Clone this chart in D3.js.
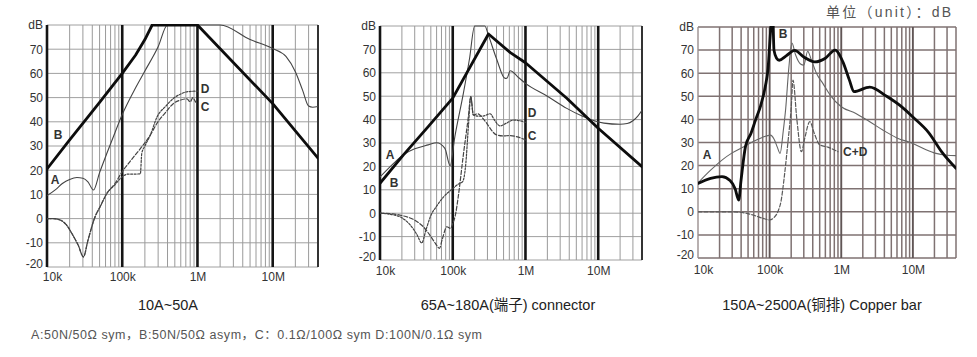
<!DOCTYPE html>
<html><head><meta charset="utf-8">
<script src="https://cdn.jsdelivr.net/npm/d3@7"></script>
<style>
body{margin:0;background:#fff;}
svg{display:block;font-family:"Liberation Sans",Arial,"Noto Sans CJK SC",sans-serif;}
</style></head>
<body><svg id="c" width="977" height="357"></svg>
<script>
// ---------- data ----------
const xTickValues = [1e4, 1e5, 1e6, 1e7];
const xTickLabels = ["10k", "100k", "1M", "10M"];
const yTickValues = [-20, -10, 0, 10, 20, 30, 40, 50, 60, 70, 80];
const yTickLabels = ["-20", "-10", "0", "10", "20", "30", "40", "50", "60", "70", "dB"];
const panelTitles = ["10A~50A", "65A~180A(端子) connector", "150A~2500A(铜排) Copper bar"];
const unitNote = "单位（unit）：dB";
const footNote = "A:50N/50Ω sym，B:50N/50Ω asym，C：0.1Ω/100Ω sym  D:100N/0.1Ω sym";

// Panel 1 (10A~50A)
const p1A_f = [1e4,1.3e4,1.6e4,2e4,2.5e4,3e4,3.5e4,4.15e4,5e4,6.25e4,8e4,1e5,1.5e5,2e5,3e5,4e5,2e6,5e6,1e7,1.5e7,2e7,2.5e7,3e7,3.4e7,4e7];
const p1A_db = [9.5,12,14.5,16.2,17,16.7,15.2,11.8,19,27,35.5,43,54,61,71,80,80,74,70.3,67,60.7,53,46.5,46,46.3];
const p1B_f = [1e4,2e4,5e4,1e5,1.5e5,2e5,2.5e5,1e6,1e7,4e7];
const p1B_db = [20.5,32.5,48,60,67.5,74,80,80,47.5,25];
const p1C_f = [1e4,1.2e4,1.5e4,1.8e4,2.2e4,2.6e4,3.05e4,3.5e4,4.36e4,5.1e4,6.25e4,8e4,1e5,1.3e5,1.8e5,2.36e5,2.9e5,3.8e5,4.8e5,6e5,7.25e5,8e5,8.7e5,9.3e5,1e6];
const p1C_db = [0,0,-0.6,-2.5,-6.8,-11,-15.8,-9,0.8,5,10.4,14.5,19.4,24,29.5,34.5,39.4,44,47.6,49,49.5,48.2,50,48.5,47.5];
const p1D_f = [1e4,1.2e4,1.5e4,1.8e4,2.2e4,2.6e4,3.05e4,3.5e4,4.36e4,5.1e4,6.25e4,8e4,1e5,1.2e5,1.5e5,1.74e5,1.82e5,2e5,2.36e5,2.9e5,3.8e5,4.8e5,6e5,7.25e5,1e6];
const p1D_db = [0,0,-0.6,-2.5,-6.8,-11,-15.8,-9,0.8,5,10.4,14,17.3,18.4,18.4,18.5,27,30,34.5,42,46.5,49.7,51.5,52.4,52.7];

// Panel 2 (connector)
const p2A_f = [1e4,1.5e4,2.1e4,3e4,4.6e4,6e4,7.8e4,9.2e4,1.07e5,1.4e5,1.7e5,2e5,2.76e5,3.1e5,4e5,5.25e5,5.6e5,6.17e5,8e5,1e6,2e6,3.7e6,6e6,8.2e6,1.2e7,2e7,2.5e7,3e7,3.5e7,4e7];
const p2A_db = [15.5,21,25,27.5,29.2,30.1,27.7,20.3,32.7,51.2,66,80,80,76,66,57.6,57.8,60.9,58,55.5,50,44.8,41.5,39.8,38.5,38,38.3,39.5,41.5,44];
const p2B_f = [1e4,2.1e4,4.6e4,1e5,3.1e5,6.2e5,1e6,3.7e6,1e7,4e7];
const p2B_db = [12.8,24.9,37,49.2,76.6,68.6,64.3,49.1,36.3,19.9];
const p2C_f = [1e4,1.5e4,2e4,3e4,4e4,5e4,5.8e4,6.56e4,7.2e4,8.3e4,9.3e4,1e5,1.1e5,1.19e5,1.4e5,1.64e5,1.77e5,1.92e5,2.2e5,2.6e5,3e5,3.5e5,4e5,5e5,6e5,8e5,1e6];
const p2C_db = [0,-0.3,-1,-3,-6,-10,-13,-15,-11,-5.8,-6.5,-4.5,0,7,25,41.2,49.8,42,42.5,40.5,38,35,33.5,33,33.2,32.5,31.3];
const p2D_f = [1e4,1.4e4,2e4,2.6e4,3.2e4,3.75e4,4.3e4,5e4,6e4,7.5e4,1e5,1.2e5,1.37e5,1.5e5,1.65e5,1.77e5,1.92e5,2.2e5,2.6e5,3.26e5,3.8e5,4.46e5,5.5e5,6.83e5,8.5e5,1e6];
const p2D_db = [0,-0.5,-2,-5,-9,-12.7,-7,-1,3,7,10.5,12.5,13.5,20,38,49.8,42,41.5,41.5,42.5,39.5,37.3,38.5,39.8,39.5,38.8];

// Panel 3 (copper bar)
const p3A_f = [1e4,1.5e4,2.16e4,3e4,4.36e4,6e4,7.9e4,1.03e5,1.15e5,1.28e5,1.4e5,1.55e5,1.68e5,1.85e5,2.05e5,2.3e5,2.7e5,3e5,3.4e5,3.8e5,4.5e5,5.56e5,7e5,1e6,1.6e6,2.5e6,3.8e6,6e6,1e7,1.5e7,2.1e7,3e7,4e7];
const p3A_db = [12.5,18,22.4,25.5,28.2,30.5,32.2,33.2,31.5,28,25.3,35,45,62,73,68,64,63.5,69.5,66,60,55.5,50.5,45.5,42.6,39,35.4,32,29.6,27,25.3,24.5,24.3];
const p3B_f = [1e4,1.5e4,2.16e4,2.8e4,3.3e4,3.7e4,4e4,4.6e4,5.5e4,6.35e4,7.5e4,8.7e4,9.5e4,1.03e5,1.1e5,1.15e5,1.25e5,1.36e5,1.7e5,2.23e5,3e5,4.27e5,6e5,8.2e5,1.05e6,1.3e6,1.5e6,2.5e6,4.3e6,7e6,1e7,1.66e7,2.56e7,4e7];
const p3B_db = [12.3,14.5,15.2,13.5,10,5.1,14,28.2,34,39.7,46,54.2,62,78,88,70,66.5,65.6,67.5,69.9,67,64.9,66.5,70,65,57,52,54,50,45.4,41,34.3,25.7,18.8];
const p3CD_f = [1e4,2e4,3e4,4.5e4,6e4,8e4,1e5,1.15e5,1.3e5,1.45e5,1.6e5,1.8e5,2e5,2.12e5,2.4e5,2.78e5,3.1e5,3.64e5,4.2e5,5e5,6.5e5,9e5];
const p3CD_db = [0,0,0,-0.5,-1.5,-2.8,-3.5,-2.5,0,5,15,30,45,57,40,26,32,39,34,29,28,26];

// ---------- drawing ----------
const svg = d3.select("#c");
const panels = [
  {x0:47, x1:318, y0:267, y1:25, style:"bw", labelTop:272,
   series:[
     {f:p1A_f, db:p1A_db, kind:"A"}, {f:p1C_f, db:p1C_db, kind:"C"},
     {f:p1D_f, db:p1D_db, kind:"D"}, {f:p1B_f, db:p1B_db, kind:"B"}],
   labels:[{t:"B",x:58,y:135},{t:"A",x:55,y:180},{t:"D",x:205,y:89},{t:"C",x:205,y:107}]},
  {x0:380, x1:642, y0:260, y1:26, style:"bw", labelTop:266,
   series:[
     {f:p2A_f, db:p2A_db, kind:"A"}, {f:p2C_f, db:p2C_db, kind:"C"},
     {f:p2D_f, db:p2D_db, kind:"D"}, {f:p2B_f, db:p2B_db, kind:"B"}],
   labels:[{t:"A",x:390,y:155},{t:"B",x:394,y:183},{t:"D",x:532,y:113},{t:"C",x:532,y:136}]},
  {x0:698, x1:956, y0:258, y1:27, style:"brown", labelTop:265,
   series:[
     {f:p3A_f, db:p3A_db, kind:"A"}, {f:p3CD_f, db:p3CD_db, kind:"C"},
     {f:p3B_f, db:p3B_db, kind:"B"}],
   labels:[{t:"A",x:707,y:155},{t:"B",x:783,y:34},{t:"C+D",x:843,y:152}]}
];

const titleX = [168, 508, 822];

panels.forEach((p, i) => {
  const x = d3.scaleLog().domain([1e4, 4e7]).range([p.x0, p.x1]);
  const y = d3.scaleLinear().domain([-20, 80]).range([p.y0, p.y1]);
  const g = svg.append("g");
  const brown = p.style === "brown";
  const minorCol = brown ? "#7f7272" : "#9a9a9a";
  const hCol = brown ? "#7f7272" : "#a0a0a0";
  const minorW = brown ? 1.5 : 1;
  const decCol = brown ? "#615656" : "#141414";
  const decW = brown ? 1.9 : 2.6;

  // horizontal grid
  g.append("g").selectAll("line").data(yTickValues).join("line")
    .attr("x1", p.x0).attr("x2", p.x1)
    .attr("y1", d => y(d)).attr("y2", d => y(d))
    .attr("stroke", hCol).attr("stroke-width", minorW);

  // vertical grid
  const minors = [];
  [1e4, 1e5, 1e6, 1e7].forEach(dec => {
    for (let m = 2; m <= 9; m++) { const v = dec * m; if (v < 4e7) minors.push(v); }
  });
  g.append("g").selectAll("line").data(minors).join("line")
    .attr("x1", d => x(d)).attr("x2", d => x(d))
    .attr("y1", p.y0).attr("y2", p.y1)
    .attr("stroke", minorCol).attr("stroke-width", minorW);
  g.append("g").selectAll("line").data(xTickValues).join("line")
    .attr("x1", d => x(d)).attr("x2", d => x(d))
    .attr("y1", p.y0).attr("y2", p.y1)
    .attr("stroke", (d, j) => (brown && j === 0) ? "#9a8f8f" : decCol)
    .attr("stroke-width", (d, j) => (brown && j === 0) ? 1.4 : decW);
  // right edge
  g.append("line").attr("x1", x(4e7)).attr("x2", x(4e7)).attr("y1", p.y0).attr("y2", p.y1)
    .attr("stroke", brown ? "#7f7272" : "#333").attr("stroke-width", brown ? 1.5 : 2);

  // clip
  const cid = "clip" + i;
  svg.append("clipPath").attr("id", cid).append("rect")
    .attr("x", p.x0).attr("y", p.y1 - 1).attr("width", p.x1 - p.x0).attr("height", p.y0 - p.y1 + 2);

  const cg = g.append("g").attr("clip-path", `url(#${cid})`);
  p.series.forEach(s => {
    const pts = s.f.map((f, k) => [f, s.db[k]]);
    const isB = s.kind === "B";
    const straight = isB && !brown;
    const line = d3.line().x(d => x(d[0])).y(d => y(d[1]))
      .curve(straight ? d3.curveLinear : d3.curveMonotoneX);
    const path = cg.append("path").attr("d", line(pts)).attr("fill", "none")
      .attr("stroke-linejoin", "round").attr("stroke-linecap", "round");
    if (isB) path.attr("stroke", "#0d0d0d").attr("stroke-width", 2.8);
    else if (s.kind === "A") path.attr("stroke", brown ? "#666" : "#444").attr("stroke-width", 1.1);
    else if (s.kind === "C") path.attr("stroke", brown ? "#5a5a5a" : "#444").attr("stroke-width", 1.2).attr("stroke-dasharray", "4,2");
    else path.attr("stroke", "#444").attr("stroke-width", 1.2).attr("stroke-dasharray", "2,1.5");
  });

  // y tick labels
  const yAxis = d3.axisLeft(y).tickValues(yTickValues).tickSize(0).tickPadding(4)
    .tickFormat((d, j) => yTickLabels[j]);
  const ya = g.append("g").attr("transform", `translate(${p.x0},0)`).call(yAxis);
  ya.select(".domain").remove();
  ya.selectAll("text").attr("font-size", 12).attr("fill", "#333")
    .attr("font-family", "Liberation Sans, Arial, sans-serif")
    .attr("dy", (d, j) => j === 0 ? "0.05em" : "0.32em");

  // x tick labels
  const xAxis = d3.axisBottom(x).tickValues(xTickValues).tickSize(0).tickPadding(0)
    .tickFormat((d, j) => xTickLabels[j]);
  const xa = g.append("g").attr("transform", `translate(0,${p.labelTop})`).call(xAxis);
  xa.select(".domain").remove();
  xa.selectAll("text").attr("font-size", 12).attr("fill", "#333")
    .attr("font-family", "Liberation Sans, Arial, sans-serif")
    .attr("dx", (d, j) => j === 0 ? 5 : 0);

  // series labels
  g.append("g").selectAll("text").data(p.labels).join("text")
    .attr("x", d => d.x).attr("y", d => d.y).attr("dy", "0.35em")
    .attr("text-anchor", d => d.t === "C+D" ? "start" : "middle")
    .attr("font-size", 12).attr("font-weight", "bold").attr("fill", "#333")
    .text(d => d.t);

  // title
  g.append("text").attr("x", titleX[i]).attr("y", 310).attr("text-anchor", "middle")
    .attr("font-size", 14.5).attr("fill", "#222").text(panelTitles[i]);
});

svg.append("text").attr("x", 951).attr("y", 17).attr("text-anchor", "end")
  .attr("font-size", 14).attr("fill", "#555")
  .attr("textLength", 125).attr("lengthAdjust", "spacing").text(unitNote);
svg.append("text").attr("x", 31).attr("y", 339)
  .attr("font-size", 12.5).attr("fill", "#555")
  .attr("textLength", 451).attr("lengthAdjust", "spacing").text(footNote);
</script>
</body></html>
